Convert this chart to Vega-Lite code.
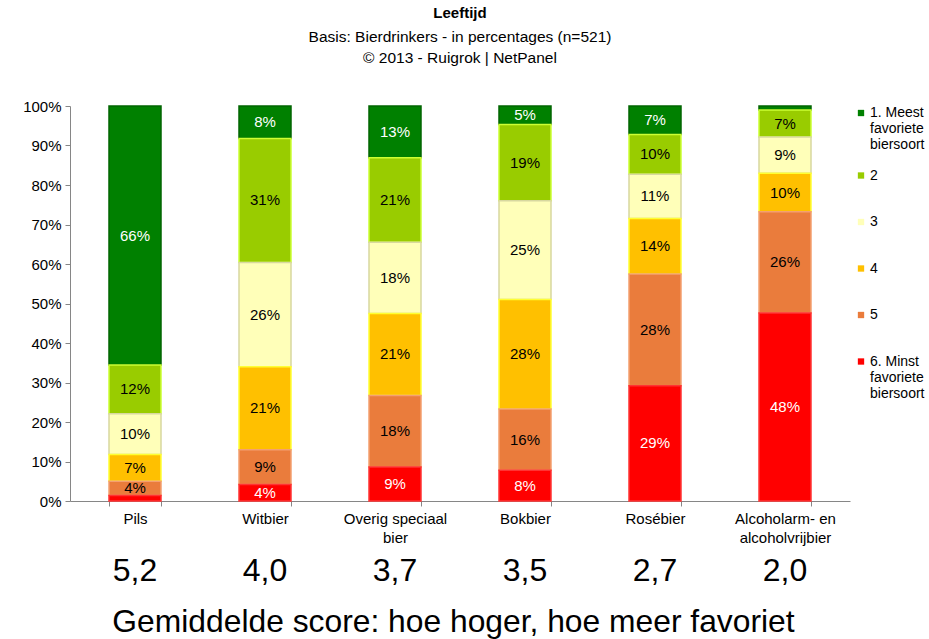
{
  "$schema": "https://vega.github.io/schema/vega-lite/v6.json",
  "width": 780,
  "height": 395,
  "autosize": {"type": "none"},
  "padding": {"left": 70, "top": 106, "right": 79, "bottom": 138},
  "config": {
    "font": "Liberation Sans",
    "view": {"stroke": null},
    "axis": {"labelColor": "#000000", "labelFont": "Liberation Sans"},
    "axisY": {"labelOverlap": false, "grid": false, "labelFontSize": 15, "labelPadding": 4, "tickSize": 5, "domainColor": "#868686", "tickColor": "#868686"}
  },
  "title": {
    "text": "Leeftijd",
    "subtitle": ["Basis: Bierdrinkers - in percentages (n=521)", "©  2013 - Ruigrok | NetPanel"],
    "anchor": "middle",
    "frame": "group",
    "fontSize": 15,
    "fontWeight": "bold",
    "color": "#000000",
    "subtitleFontSize": 15.5,
    "subtitleColor": "#000000",
    "subtitleLineHeight": 21,
    "subtitlePadding": 9,
    "offset": 33
  },
  "datasets": {
    "shares": [
      {"cat": "Pils", "rank": 1, "pct": 0.656},
      {"cat": "Pils", "rank": 2, "pct": 0.123},
      {"cat": "Pils", "rank": 3, "pct": 0.103},
      {"cat": "Pils", "rank": 4, "pct": 0.068},
      {"cat": "Pils", "rank": 5, "pct": 0.036},
      {"cat": "Pils", "rank": 6, "pct": 0.014},
      {"cat": "Witbier", "rank": 1, "pct": 0.082},
      {"cat": "Witbier", "rank": 2, "pct": 0.314},
      {"cat": "Witbier", "rank": 3, "pct": 0.264},
      {"cat": "Witbier", "rank": 4, "pct": 0.21},
      {"cat": "Witbier", "rank": 5, "pct": 0.088},
      {"cat": "Witbier", "rank": 6, "pct": 0.042},
      {"cat": "Overig speciaal bier", "rank": 1, "pct": 0.131},
      {"cat": "Overig speciaal bier", "rank": 2, "pct": 0.214},
      {"cat": "Overig speciaal bier", "rank": 3, "pct": 0.18},
      {"cat": "Overig speciaal bier", "rank": 4, "pct": 0.208},
      {"cat": "Overig speciaal bier", "rank": 5, "pct": 0.181},
      {"cat": "Overig speciaal bier", "rank": 6, "pct": 0.086},
      {"cat": "Bokbier", "rank": 1, "pct": 0.047},
      {"cat": "Bokbier", "rank": 2, "pct": 0.193},
      {"cat": "Bokbier", "rank": 3, "pct": 0.25},
      {"cat": "Bokbier", "rank": 4, "pct": 0.277},
      {"cat": "Bokbier", "rank": 5, "pct": 0.155},
      {"cat": "Bokbier", "rank": 6, "pct": 0.078},
      {"cat": "Rosébier", "rank": 1, "pct": 0.072},
      {"cat": "Rosébier", "rank": 2, "pct": 0.101},
      {"cat": "Rosébier", "rank": 3, "pct": 0.112},
      {"cat": "Rosébier", "rank": 4, "pct": 0.14},
      {"cat": "Rosébier", "rank": 5, "pct": 0.283},
      {"cat": "Rosébier", "rank": 6, "pct": 0.292},
      {"cat": "Alcoholarm- en alcoholvrijbier", "rank": 1, "pct": 0.01},
      {"cat": "Alcoholarm- en alcoholvrijbier", "rank": 2, "pct": 0.069},
      {"cat": "Alcoholarm- en alcoholvrijbier", "rank": 3, "pct": 0.092},
      {"cat": "Alcoholarm- en alcoholvrijbier", "rank": 4, "pct": 0.098},
      {"cat": "Alcoholarm- en alcoholvrijbier", "rank": 5, "pct": 0.257},
      {"cat": "Alcoholarm- en alcoholvrijbier", "rank": 6, "pct": 0.478}
    ],
    "scores": [
      {"cat": "Pils", "score": "5,2"},
      {"cat": "Witbier", "score": "4,0"},
      {"cat": "Overig speciaal bier", "score": "3,7"},
      {"cat": "Bokbier", "score": "3,5"},
      {"cat": "Rosébier", "score": "2,7"},
      {"cat": "Alcoholarm- en alcoholvrijbier", "score": "2,0"}
    ]
  },
  "layer": [
    {
      "data": {"name": "shares"},
      "transform": [
        {"stack": "pct", "groupby": ["cat"], "sort": [{"field": "rank", "order": "descending"}], "offset": "normalize", "as": ["y0", "y1"]}
      ],
      "mark": {"type": "bar", "strokeWidth": 1.5},
      "encoding": {
        "x": {
          "field": "cat",
          "type": "nominal",
          "sort": ["Pils", "Witbier", "Overig speciaal bier", "Bokbier", "Rosébier", "Alcoholarm- en alcoholvrijbier"],
          "scale": {"paddingInner": 0.6, "paddingOuter": 0.3},
          "axis": {
            "title": "Gemiddelde score: hoe hoger, hoe meer favoriet",
            "titleFontSize": 31.8,
            "titleFontWeight": "normal",
            "titleColor": "#000000",
            "titlePadding": 61,
            "titleX": 383,
            "labelAngle": 0,
            "labelFontSize": 15,
            "labelPadding": 5,
            "labelLineHeight": 19,
            "labelExpr": "datum.label == 'Overig speciaal bier' ? ['Overig speciaal', 'bier'] : datum.label == 'Alcoholarm- en alcoholvrijbier' ? ['Alcoholarm- en', 'alcoholvrijbier'] : datum.label",
            "tickBand": "extent",
            "tickSize": 5,
            "domainColor": "#868686",
            "tickColor": "#868686"
          }
        },
        "y": {
          "field": "y1",
          "type": "quantitative",
          "scale": {"domain": [0, 1]},
          "axis": {"title": null, "format": ".0%", "values": [0, 0.1, 0.2, 0.3, 0.4, 0.5, 0.6, 0.7, 0.8, 0.9, 1]}
        },
        "y2": {"field": "y0"},
        "color": {
          "field": "rank",
          "type": "ordinal",
          "scale": {"domain": [1, 2, 3, 4, 5, 6], "range": ["#008000", "#99cc00", "#ffffb9", "#ffc000", "#ea7c3c", "#ff0000"]},
          "legend": {
            "title": null,
            "orient": "right",
            "offset": 4,
            "symbolType": "square",
            "symbolSize": 40,
            "symbolStrokeWidth": 0,
            "labelFontSize": 14,
            "labelColor": "#000000",
            "labelLineHeight": 15,
            "labelOffset": 2,
            "labelBaseline": "top",
            "rowPadding": 16.5,
            "labelExpr": "datum.value == 1 ? ['1. Meest', 'favoriete', 'biersoort'] : datum.value == 6 ? ['6. Minst', 'favoriete', 'biersoort'] : [datum.label, ' ']",
            "encode": {"labels": {"update": {"dy": {"value": -7}}}}
          }
        },
        "stroke": {
          "field": "rank",
          "type": "ordinal",
          "scale": {"domain": [1, 2, 3, 4, 5, 6], "range": ["#006400", "#ccff33", "#d8d8a0", "#ffff33", "#f4a070", "#ff3333"]},
          "legend": null
        }
      }
    },
    {
      "data": {"name": "shares"},
      "transform": [
        {"stack": "pct", "groupby": ["cat"], "sort": [{"field": "rank", "order": "descending"}], "offset": "normalize", "as": ["y0", "y1"]},
        {"calculate": "(datum.y0 + datum.y1) / 2", "as": "ymid"},
        {"filter": "datum.pct >= 0.02"}
      ],
      "mark": {"type": "text", "fontSize": 15, "baseline": "middle"},
      "encoding": {
        "x": {"field": "cat", "type": "nominal", "sort": ["Pils", "Witbier", "Overig speciaal bier", "Bokbier", "Rosébier", "Alcoholarm- en alcoholvrijbier"]},
        "y": {
          "field": "ymid",
          "type": "quantitative",
          "axis": {"title": null, "format": ".0%", "values": [0, 0.1, 0.2, 0.3, 0.4, 0.5, 0.6, 0.7, 0.8, 0.9, 1]}
        },
        "text": {"field": "pct", "type": "quantitative", "format": ".0%"},
        "color": {"condition": {"test": "datum.rank == 1 || datum.rank == 6", "value": "#ffffff"}, "value": "#000000"}
      }
    },
    {
      "data": {"name": "scores"},
      "mark": {"type": "text", "fontSize": 32, "baseline": "middle", "color": "#000000"},
      "encoding": {
        "x": {"field": "cat", "type": "nominal", "sort": ["Pils", "Witbier", "Overig speciaal bier", "Bokbier", "Rosébier", "Alcoholarm- en alcoholvrijbier"]},
        "y": {
          "datum": -0.177,
          "type": "quantitative",
          "axis": {"title": null, "format": ".0%", "values": [0, 0.1, 0.2, 0.3, 0.4, 0.5, 0.6, 0.7, 0.8, 0.9, 1]}
        },
        "text": {"field": "score", "type": "nominal"}
      }
    }
  ]
}
